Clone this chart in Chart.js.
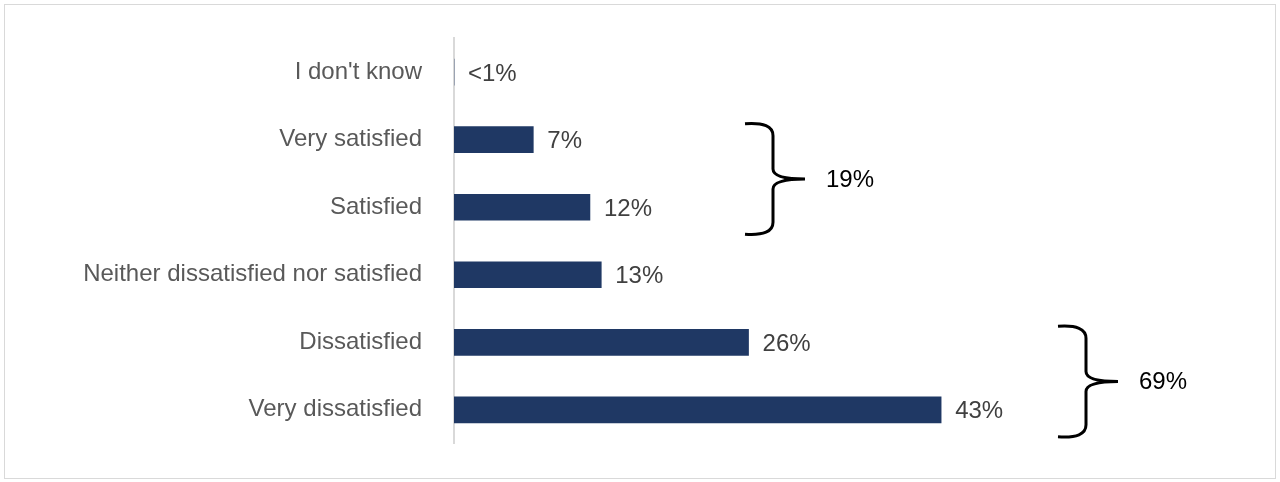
<!DOCTYPE html>
<html><head><meta charset="utf-8">
<script src="https://cdn.jsdelivr.net/npm/chart.js@4"></script>
<style>
html,body{margin:0;padding:0;background:#fff;}
#wrap{position:relative;width:1280px;height:482px;}
#frame{position:absolute;left:4px;top:4px;width:1270px;height:473px;border:1px solid #d9d9d9;}
canvas{position:absolute;left:0;top:0;}
</style></head><body>
<div id="wrap"><div id="frame"></div><canvas id="c" width="1280" height="482"></canvas></div>
<script>
const categories=["I don't know","Very satisfied","Satisfied","Neither dissatisfied nor satisfied","Dissatisfied","Very dissatisfied"];
const values=[0,7,12,13,26,43];
const valueLabels=["<1%","7%","12%","13%","26%","43%"];
const groupLabels=["19%","69%"];
const groups=[[1,2],[4,5]];

const labelPlugin={id:'lbl',afterDatasetsDraw(chart){
  const ctx=chart.ctx, meta=chart.getDatasetMeta(0), ys=chart.scales.y;
  ctx.save();ctx.font='24px Arial, "Liberation Sans"';ctx.fillStyle='#404040';ctx.textBaseline='middle';ctx.textAlign='left';
  meta.data.forEach((b,i)=>{ctx.fillText(valueLabels[i],b.x+14,b.y+2);});
  const bx=[745,1058];
  groups.forEach((g,k)=>{
    const y1=ys.getPixelForValue(g[0])-16, y2=ys.getPixelForValue(g[1])+27;
    const x=bx[k], ym=(y1+y2)/2;
    ctx.strokeStyle='#000';ctx.lineWidth=3;ctx.beginPath();
    ctx.moveTo(x,y1);ctx.quadraticCurveTo(x+28,y1-2,x+28,y1+12);
    ctx.lineTo(x+28,ym-10);ctx.quadraticCurveTo(x+28,ym,x+60,ym);
    ctx.moveTo(x+28,ym+10);ctx.quadraticCurveTo(x+28,ym,x+60,ym);
    ctx.moveTo(x,y2);ctx.quadraticCurveTo(x+28,y2+2,x+28,y2-12);
    ctx.lineTo(x+28,ym+10);
    ctx.stroke();
    ctx.fillStyle='#000';ctx.fillText(groupLabels[k],x+81,ym+1);
  });
  ctx.restore();
}};

new Chart(document.getElementById('c'),{
  type:'bar',
  data:{labels:categories,datasets:[{data:values,backgroundColor:'#1f3864',barThickness:26}]},
  options:{indexAxis:'y',responsive:false,animation:false,
    layout:{padding:{top:6,bottom:0,right:33,left:0}},
    plugins:{legend:{display:false},tooltip:{enabled:false}},
    scales:{
      x:{display:false,min:0,max:70},
      y:{grid:{display:false},border:{display:true,color:'#d9d9d9',width:2},
         ticks:{color:'#595959',font:{size:24,family:'Arial, "Liberation Sans"'},padding:24},
         afterFit:s=>{s.width=454;}}
    }},
  plugins:[labelPlugin]
});
</script></body></html>
